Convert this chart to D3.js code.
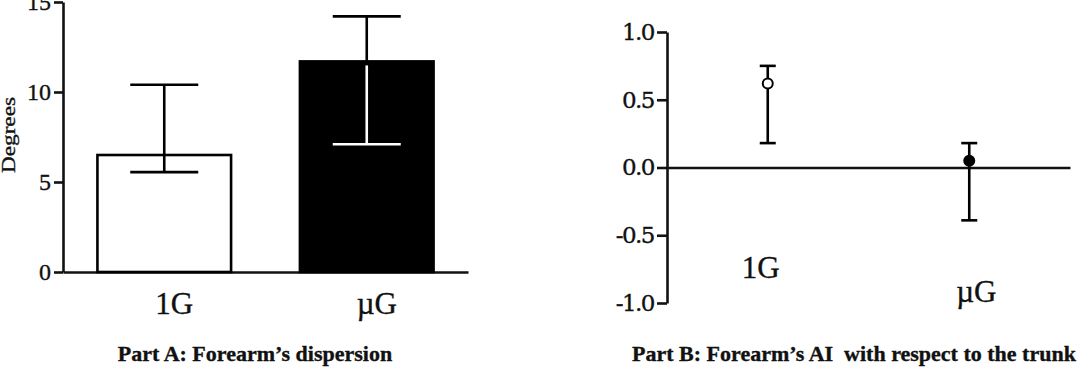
<!DOCTYPE html>
<html>
<head>
<meta charset="utf-8">
<script src="https://cdn.jsdelivr.net/npm/d3@7"></script>
<style>
  body { margin: 0; background: #fff; }
  svg { display: block; }
  .axis path, .axis line { stroke: #111; stroke-width: 2.6; }
  text { fill: #111; stroke: #111; stroke-width: 0.35; }
</style>
</head>
<body>
<div id="chart"></div>
<script>
// Part A: forearm dispersion (bars + error bars)
const groupsA = ['1G', 'µG'];
const meanA = [6.5, 11.7];
const lowA = [5.55, 7.1];
const highA = [10.4, 14.2];
const fillA = ['#fff', '#000'];
const ticksA = [0, 5, 10, 15];

// Part B: forearm AI with respect to the trunk (points + error bars)
const groupsB = ['1G', 'µG'];
const meanB = [0.62, 0.05];
const lowB = [0.18, -0.39];
const highB = [0.75, 0.18];
const fillB = ['#fff', '#000'];
const ticksB = [-1, -0.5, 0, 0.5, 1];

const width = 1079, height = 375;
const svg = d3.select('#chart').append('svg')
    .attr('width', width)
    .attr('height', height);

// ---------- Part A ----------
const xA = d3.scaleBand().domain(groupsA).range([63, 468]).paddingInner(0.34).paddingOuter(0.17);
const yA = d3.scaleLinear().domain([0, 15]).range([272, 2]);

const gA = svg.append('g');

gA.append('g')
    .attr('class', 'axis')
    .attr('transform', 'translate(63,0)')
    .call(d3.axisLeft(yA).tickValues(ticksA).tickSize(9).tickSizeOuter(0).tickPadding(3))
    .call(g => g.selectAll('text')
        .style('font-family', '"Liberation Serif", serif')
        .style('font-size', '24px'));

gA.append('g')
    .attr('class', 'axis')
    .attr('transform', `translate(0,${yA(0)})`)
    .call(d3.axisBottom(xA).tickSize(0).tickSizeOuter(0).tickFormat(''));

gA.selectAll('rect.bar')
    .data(groupsA)
    .enter()
    .append('rect')
        .attr('class', 'bar')
        .attr('x', d => xA(d))
        .attr('y', (d, i) => yA(meanA[i]))
        .attr('width', xA.bandwidth())
        .attr('height', (d, i) => yA(0) - yA(meanA[i]))
        .attr('fill', (d, i) => fillA[i])
        .attr('stroke', '#000')
        .attr('stroke-width', 2.6);

const capA = 34;
groupsA.forEach(function(d, i) {
    const cx = xA(d) + xA.bandwidth() / 2;
    const inner = fillA[i] == '#000' ? '#fff' : '#000';
    const gap = fillA[i] == '#000' ? 4 : 0;
    // part above the bar
    gA.append('line')
        .attr('x1', cx).attr('x2', cx)
        .attr('y1', yA(highA[i])).attr('y2', yA(meanA[i]))
        .attr('stroke', '#000').attr('stroke-width', 2.6);
    gA.append('line')
        .attr('x1', cx - capA).attr('x2', cx + capA)
        .attr('y1', yA(highA[i])).attr('y2', yA(highA[i]))
        .attr('stroke', '#000').attr('stroke-width', 2.6);
    // part inside the bar
    gA.append('line')
        .attr('x1', cx).attr('x2', cx)
        .attr('y1', yA(meanA[i]) + gap).attr('y2', yA(lowA[i]))
        .attr('stroke', inner).attr('stroke-width', 2.6);
    gA.append('line')
        .attr('x1', cx - capA).attr('x2', cx + capA)
        .attr('y1', yA(lowA[i])).attr('y2', yA(lowA[i]))
        .attr('stroke', inner).attr('stroke-width', 2.6);
});

gA.selectAll('text.xlab')
    .data(groupsA)
    .enter()
    .append('text')
        .attr('class', 'xlab')
        .attr('x', d => xA(d) + xA.bandwidth() / 2 + 10)
        .attr('y', 314)
        .attr('text-anchor', 'middle')
        .style('font-family', '"Liberation Serif", serif')
        .style('font-size', '31px')
        .text(d => d);

gA.append('text')
    .attr('transform', 'translate(15,135) rotate(-90)')
    .attr('text-anchor', 'middle')
    .style('font-family', '"Liberation Serif", serif')
    .style('font-size', '18px')
    .attr('textLength', 76)
    .attr('lengthAdjust', 'spacingAndGlyphs')
    .text('Degrees');

gA.append('text')
    .attr('x', 255)
    .attr('y', 361)
    .attr('text-anchor', 'middle')
    .style('font-family', '"Liberation Serif", serif')
    .style('font-weight', 'bold')
    .style('font-size', '22px')
    .text('Part A: Forearm’s dispersion');

// ---------- Part B ----------
const xB = d3.scaleBand().domain(groupsB).range([667, 1070]);
const yB = d3.scaleLinear().domain([-1, 1]).range([303, 32]);

const gB = svg.append('g');

gB.append('g')
    .attr('class', 'axis')
    .attr('transform', 'translate(667,0)')
    .call(d3.axisLeft(yB).tickValues(ticksB).tickSize(10).tickSizeOuter(0).tickPadding(3)
        .tickFormat(d => d3.format('.1f')(d).replace('−', '-')))
    .call(g => g.selectAll('text')
        .style('font-family', '"DejaVu Serif", serif')
        .style('font-size', '23px')
        .style('letter-spacing', '-1.5px'));

gB.append('g')
    .attr('class', 'axis')
    .attr('transform', `translate(0,${yB(0)})`)
    .call(d3.axisBottom(xB).tickSize(0).tickSizeOuter(0).tickFormat(''));

const capB = 8;
groupsB.forEach(function(d, i) {
    const cx = xB(d) + xB.bandwidth() / 2;
    gB.append('line')
        .attr('x1', cx).attr('x2', cx)
        .attr('y1', yB(highB[i])).attr('y2', yB(lowB[i]))
        .attr('stroke', '#000').attr('stroke-width', 2.6);
    [highB[i], lowB[i]].forEach(v => gB.append('line')
        .attr('x1', cx - capB).attr('x2', cx + capB)
        .attr('y1', yB(v)).attr('y2', yB(v))
        .attr('stroke', '#000').attr('stroke-width', 2.6));
    gB.append('circle')
        .attr('cx', cx)
        .attr('cy', yB(meanB[i]))
        .attr('r', 5)
        .attr('fill', fillB[i])
        .attr('stroke', '#000')
        .attr('stroke-width', 2);
});

const labelYB = [278, 302];
gB.selectAll('text.xlab')
    .data(groupsB)
    .enter()
    .append('text')
        .attr('class', 'xlab')
        .attr('x', (d, i) => xB(d) + xB.bandwidth() / 2 + (i == 0 ? -7 : 7))
        .attr('y', (d, i) => labelYB[i])
        .attr('text-anchor', 'middle')
        .style('font-family', '"Liberation Serif", serif')
        .style('font-size', '31px')
        .text(d => d);

gB.append('text')
    .attr('x', 854)
    .attr('y', 361)
    .attr('text-anchor', 'middle')
    .style('font-family', '"Liberation Serif", serif')
    .style('font-weight', 'bold')
    .style('font-size', '22px')
    .style('white-space', 'pre')
    .text('Part B: Forearm’s AI  with respect to the trunk');
</script>
</body>
</html>
